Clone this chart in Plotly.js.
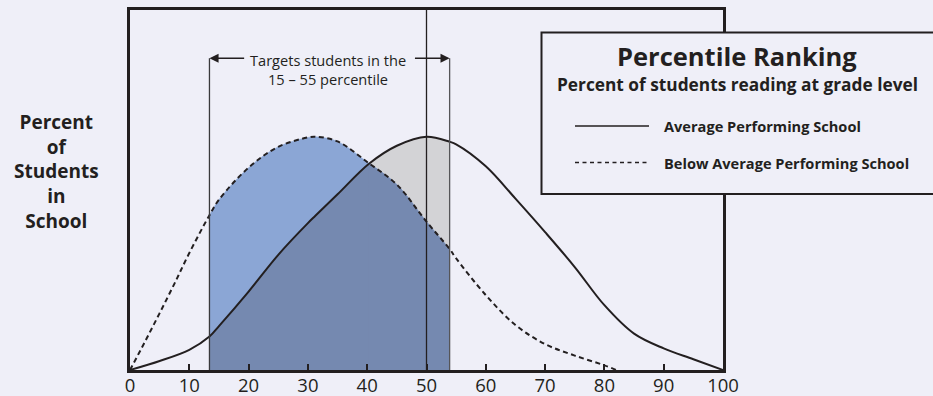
<!DOCTYPE html>
<html>
<head>
<meta charset="utf-8">
<script src="https://cdn.plot.ly/plotly-3.0.1.min.js"></script>
<style>html,body{margin:0;padding:0;background:#efeff8;}</style>
</head>
<body>
<div id="chart" style="width:933px;height:396px;"></div>
<script>
// ---- data ----
const avgX = [0,5,10,13.4,15,20,25,30,31.3,35,40.3,45,50,53.9,55,60,65,70,75,80,85,90,95,100];
const avgY = [0,2.5,5.6,9.3,12.2,21.8,32,40.8,42.9,48.8,57.3,62.3,64.8,63.4,62.7,56.6,47.6,38.3,28.6,18,10.1,6.0,3.0,0];
const belowX = [0,2.5,5,7.5,10,13.4,15,20,25,30,31.3,35,40.3,45,50,53.9,55,60,65,70,75,80,82];
const belowY = [0,7.8,15.8,24,32.5,43,47.3,56.2,62,64.6,64.8,63.5,57.4,51.5,41.2,33.6,31,20.8,12.5,7.2,4.0,1.3,0];
const targetRange = [13.4, 53.9];
const crossX = 40.3;
const medianX = 50;
const bracketY = 86.6;
const tickVals = [0,10,20,30,40,50,60,70,80,90,100];
const tickText = ['0','10','20','30','40','50','60','70','80','90','100'];
const seriesNames = ['Average Performing School','Below Average Performing School'];

const ink = '#231f20';
const bg = '#efeff8';
const grayFill = '#d3d3d6';
const blueFill = '#8ba6d5';
const darkFill = '#7589b0';
const FONT = 'Open Sans, sans-serif';

function sub(xs, ys, a, b) {
  const ox = [], oy = [];
  xs.forEach((x, i) => { if (x >= a - 1e-9 && x <= b + 1e-9) { ox.push(x); oy.push(ys[i]); } });
  return {x: ox, y: oy};
}
const gAvg = sub(avgX, avgY, targetRange[0], targetRange[1]);
const gBelow = sub(belowX, belowY, targetRange[0], targetRange[1]);
const d1 = sub(avgX, avgY, targetRange[0], crossX);
const d2 = sub(belowX, belowY, crossX, targetRange[1]);

function fillTrace(s, color) {
  return {x: s.x, y: s.y, type: 'scatter', mode: 'lines', fill: 'tozeroy',
    fillcolor: color, line: {color: color, width: 0.5, shape: 'spline'},
    hoverinfo: 'skip', showlegend: false};
}

const traces = [
  fillTrace(gAvg, grayFill),
  fillTrace(gBelow, blueFill),
  fillTrace(d1, darkFill),
  fillTrace(d2, darkFill),
  {x: avgX, y: avgY, type: 'scatter', mode: 'lines', name: seriesNames[0],
   line: {color: ink, width: 2, shape: 'spline'}, showlegend: false},
  {x: belowX, y: belowY, type: 'scatter', mode: 'lines', name: seriesNames[1],
   line: {color: ink, width: 2, shape: 'spline', dash: '5px,3.5px'}, showlegend: false}
];

const L = 130, R = 210, T = 10, B = 26;
const W = 933 - L - R, H = 396 - T - B;
const px = v => (v - L) / W;       // page x -> paper
const py = v => (396 - B - v) / H; // page y -> paper

const shapes = [
  {type: 'line', xref: 'x', yref: 'paper', x0: medianX, x1: medianX, y0: 0, y1: 1, layer: 'above',
   line: {color: ink, width: 1.3}},
  {type: 'line', xref: 'x', yref: 'y', x0: targetRange[0], x1: targetRange[0], y0: 0, y1: bracketY, layer: 'above',
   line: {color: '#3a3a3c', width: 1.3}},
  {type: 'line', xref: 'x', yref: 'y', x0: targetRange[1], x1: targetRange[1], y0: 0, y1: bracketY, layer: 'above',
   line: {color: '#555558', width: 1.3}},
  // legend box
  {type: 'rect', xref: 'paper', yref: 'paper', x0: px(541.5), x1: px(960), y0: py(194), y1: py(32.5), layer: 'above',
   fillcolor: bg, line: {color: ink, width: 2}},
  {type: 'line', xref: 'paper', yref: 'paper', x0: px(575), x1: px(649), y0: py(126), y1: py(126), layer: 'above',
   line: {color: ink, width: 1.6}},
  {type: 'line', xref: 'paper', yref: 'paper', x0: px(575), x1: px(649), y0: py(162.5), y1: py(162.5), layer: 'above',
   line: {color: ink, width: 1.6, dash: '4px,3.5px'}}
];

const annotations = [
  {xref: 'paper', yref: 'paper', x: px(56.5), y: py(172), xanchor: 'center', yanchor: 'middle',
   text: '<b>Percent<br>of<br>Students<br>in<br>School</b>', showarrow: false, align: 'center',
   font: {family: FONT, size: 19, color: ink}},
  {xref: 'x', yref: 'y', x: 33.4, y: 83.5, xanchor: 'center', yanchor: 'middle',
   text: 'Targets students in the<br>15 – 55 percentile', showarrow: false, align: 'center',
   font: {family: FONT, size: 14.6, color: ink}},
  {xref: 'x', yref: 'y', axref: 'x', ayref: 'y', x: targetRange[0], y: bracketY, ax: 19.5, ay: bracketY,
   text: '', showarrow: true, arrowhead: 2, arrowsize: 1.4, arrowwidth: 1.3, arrowcolor: ink},
  {xref: 'x', yref: 'y', axref: 'x', ayref: 'y', x: targetRange[1], y: bracketY, ax: 47.8, ay: bracketY,
   text: '', showarrow: true, arrowhead: 2, arrowsize: 1.4, arrowwidth: 1.3, arrowcolor: ink},
  {xref: 'paper', yref: 'paper', x: px(737), y: py(55.5), xanchor: 'center', yanchor: 'middle',
   text: '<b>Percentile Ranking</b>', showarrow: false, font: {family: FONT, size: 25.5, color: ink}},
  {xref: 'paper', yref: 'paper', x: px(737), y: py(84), xanchor: 'center', yanchor: 'middle',
   text: '<b>Percent of students reading at grade level</b>', showarrow: false, font: {family: FONT, size: 17.3, color: ink}},
  {xref: 'paper', yref: 'paper', x: px(662), y: py(126), xanchor: 'left', yanchor: 'middle',
   text: '<b>' + seriesNames[0] + '</b>', showarrow: false, font: {family: FONT, size: 14.6, color: ink}},
  {xref: 'paper', yref: 'paper', x: px(662), y: py(162.5), xanchor: 'left', yanchor: 'middle',
   text: '<b>' + seriesNames[1] + '</b>', showarrow: false, font: {family: FONT, size: 14.6, color: ink}}
];

const layout = {
  width: 933, height: 396,
  margin: {l: L, r: R, t: T, b: B, pad: 0},
  paper_bgcolor: bg, plot_bgcolor: bg,
  showlegend: false,
  xaxis: {range: [0, 100], tickvals: tickVals, ticktext: tickText, showgrid: false, zeroline: false,
    showline: true, mirror: true, linecolor: ink, linewidth: 3,
    ticks: 'inside', ticklen: 6, tickwidth: 2, tickcolor: ink, ticklabelstandoff: -3,
    tickfont: {family: FONT, size: 18.5, color: ink}, fixedrange: true},
  yaxis: {range: [0, 100], showgrid: false, zeroline: false, showticklabels: false,
    showline: true, mirror: true, linecolor: ink, linewidth: 3, ticks: '', fixedrange: true},
  shapes: shapes,
  annotations: annotations
};

Plotly.newPlot('chart', traces, layout, {displayModeBar: false, staticPlot: true});
</script>
</body>
</html>
